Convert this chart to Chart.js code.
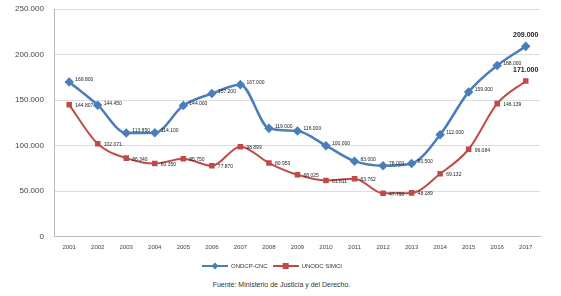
<!DOCTYPE html>
<html lang="es">
<head>
  <meta charset="UTF-8" />
  <title>Cultivos de coca</title>
  <style>
    * { margin: 0; padding: 0; box-sizing: border-box; }
    body { background: #fff; width: 561px; height: 296px; font-family: 'Liberation Sans', Arial, sans-serif; }
    .wrap { position: relative; width: 561px; height: 279px; }
    .fuente { text-align: center; font-size: 7px; color: #333; margin-top: 2px; margin-left: 2px; }
  </style>
</head>
<body>
  <div class="wrap"><canvas id="chart"></canvas></div>
  <div class="fuente">Fuente: Ministerio de Justicia y del Derecho.</div>

  <script src="https://cdn.jsdelivr.net/npm/chart.js"></script>
  <script>
    const years = ['2001', '2002', '2003', '2004', '2005', '2006', '2007', '2008', '2009',
      '2010', '2011', '2012', '2013', '2014', '2015', '2016', '2017'];
    const ondcp = [169800, 144450, 113850, 114100, 144000, 157200, 167000, 119000, 116000,
      100000, 83000, 78000, 80500, 112000, 159000, 188000, 209000];
    const unodc = [144807, 102071, 86340, 80350, 85750, 77870, 98899, 80953, 68025,
      61811, 63762, 47790, 48189, 69132, 96084, 146139, 171000];
    const yTicks = [0, 50000, 100000, 150000, 200000, 250000];

    const blue = '#4a7ebb';
    const red = '#be4b48';

    function fmt(n) {
      return String(n).replace(/\B(?=(\d{3})+(?!\d))/g, '.');
    }

    function legendIcon(color, style) {
      const c = document.createElement('canvas');
      c.width = 26; c.height = 8;
      const ctx = c.getContext('2d');
      ctx.strokeStyle = color;
      ctx.lineWidth = 2;
      ctx.beginPath(); ctx.moveTo(0, 4); ctx.lineTo(26, 4); ctx.stroke();
      ctx.fillStyle = color;
      ctx.beginPath();
      if (style === 'rectRot') {
        ctx.moveTo(13, 0.5); ctx.lineTo(16.5, 4); ctx.lineTo(13, 7.5); ctx.lineTo(9.5, 4);
      } else {
        ctx.rect(10, 1, 6, 6);
      }
      ctx.fill();
      return c;
    }

    // etiquetas de datos junto a cada punto
    const labelsPlugin = {
      id: 'dataLabels',
      afterDatasetsDraw(chart) {
        const ctx = chart.ctx;
        ctx.save();
        chart.data.datasets.forEach((ds, i) => {
          const meta = chart.getDatasetMeta(i);
          meta.data.forEach((pt, j) => {
            const last = j === ds.data.length - 1;
            ctx.fillStyle = '#222';
            ctx.font = last ? 'bold 7px "Liberation Sans", Arial' : '5px "Liberation Sans", Arial';
            ctx.textBaseline = 'middle';
            if (last) {
              ctx.textAlign = 'center';
              ctx.fillText(fmt(ds.data[j]), pt.x, pt.y - 11);
            } else {
              ctx.textAlign = 'left';
              ctx.fillText(fmt(ds.data[j]), pt.x + 6, pt.y + (i === 0 ? -2 : 1));
            }
          });
        });
        ctx.restore();
      }
    };

    new Chart(document.getElementById('chart'), {
      type: 'line',
      data: {
        labels: years,
        datasets: [{
          label: 'ONDCP-CNC',
          data: ondcp,
          borderColor: blue,
          backgroundColor: blue,
          borderWidth: 2.5,
          pointStyle: 'rectRot',
          pointRadius: 3,
          tension: 0.4,
          cubicInterpolationMode: 'monotone'
        }, {
          label: 'UNODC SIMCI',
          data: unodc,
          borderColor: red,
          backgroundColor: red,
          borderWidth: 2,
          pointStyle: 'rect',
          pointRadius: 2.5,
          tension: 0.4,
          cubicInterpolationMode: 'monotone'
        }]
      },
      options: {
        responsive: true,
        maintainAspectRatio: false,
        animation: false,
        layout: { autoPadding: false, padding: { top: 9, right: 21, left: 4, bottom: 0 } },
        plugins: {
          tooltip: { enabled: false },
          legend: {
            position: 'bottom',
            labels: {
              font: { size: 6 },
              color: '#333',
              boxHeight: 8,
              pointStyleWidth: 26,
              padding: 5,
              usePointStyle: true,
              generateLabels(chart) {
                return chart.data.datasets.map((ds, i) => ({
                  text: ds.label,
                  fillStyle: ds.borderColor,
                  strokeStyle: ds.borderColor,
                  pointStyle: legendIcon(ds.borderColor, ds.pointStyle),
                  datasetIndex: i,
                  fontColor: '#333'
                }));
              }
            }
          }
        },
        scales: {
          x: {
            offset: true,
            grid: { display: false, drawTicks: false },
            border: { color: '#bbb' },
            ticks: { font: { size: 6 }, color: '#444', maxRotation: 0, autoSkip: false, padding: 7 }
          },
          y: {
            min: 0,
            max: 250000,
            afterBuildTicks(axis) { axis.ticks = yTicks.map(v => ({ value: v })); },
            afterFit(axis) { axis.paddingTop = 0; axis.paddingBottom = 0; },
            grid: { color: '#dcdcdc', drawTicks: false },
            border: { color: '#bbb' },
            ticks: {
              font: { size: 8 },
              color: '#444',
              padding: 11,
              callback: v => fmt(v)
            }
          }
        }
      },
      plugins: [labelsPlugin]
    });
  </script>
</body>
</html>
